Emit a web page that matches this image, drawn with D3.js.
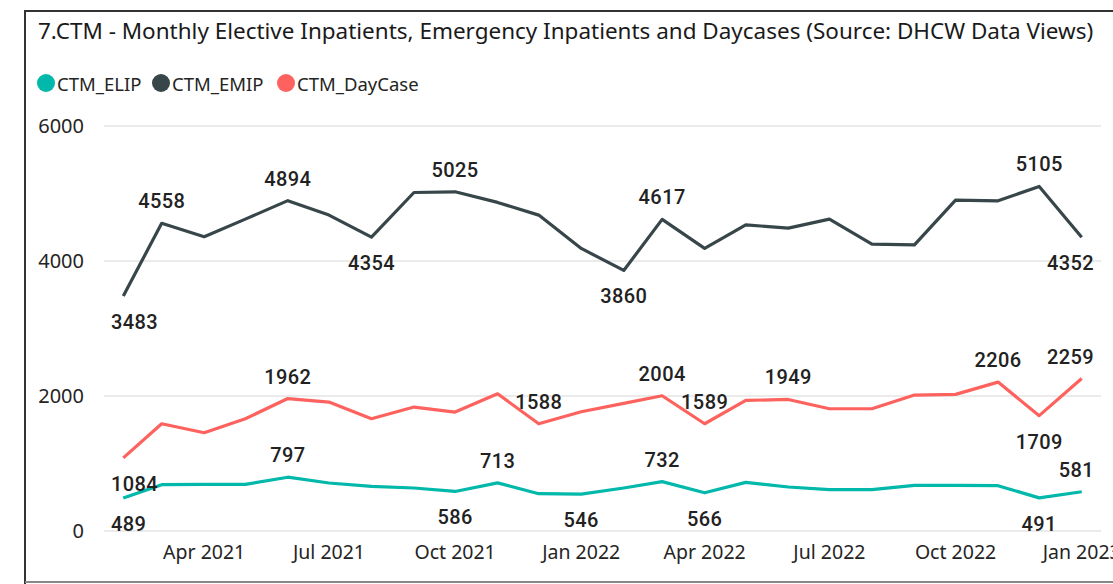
<!DOCTYPE html>
<html>
<head>
<meta charset="utf-8">
<script src="https://cdn.jsdelivr.net/npm/d3@7"></script>
<style>
  body { margin: 0; background: #fff; }
  svg { display: block; }
</style>
</head>
<body>
<svg id="chart" width="1113" height="584"></svg>
<script>
var months = ["2021-02", "2021-03", "2021-04", "2021-05", "2021-06", "2021-07",
    "2021-08", "2021-09", "2021-10", "2021-11", "2021-12", "2022-01",
    "2022-02", "2022-03", "2022-04", "2022-05", "2022-06", "2022-07",
    "2022-08", "2022-09", "2022-10", "2022-11", "2022-12", "2023-01"];
var elip = [489, 686, 690, 690, 797, 711, 661, 637, 586, 713, 553, 546,
    637, 732, 566, 720, 652, 612, 612, 676, 676, 671, 491, 581];
var emip = [3483, 4558, 4360, 4620, 4894, 4680, 4354, 5015, 5025, 4868, 4680, 4186,
    3860, 4617, 4186, 4536, 4487, 4620, 4250, 4240, 4902, 4892, 5105, 4352];
var dayCase = [1084, 1589, 1456, 1663, 1962, 1910, 1663, 1836, 1762, 2033, 1588, 1767,
    1890, 2004, 1589, 1935, 1949, 1811, 1811, 2014, 2024, 2206, 1709, 2259];
var yTicks = [0, 2000, 4000, 6000];
var xTicks = ["2021-04", "2021-07", "2021-10", "2022-01", "2022-04", "2022-07", "2022-10", "2023-01"];
var seriesNames = ["CTM_ELIP", "CTM_EMIP", "CTM_DayCase"];
var colours = ["#01B8AA", "#374649", "#FD625E"];
// which points carry a data label, and on which side
var elipLabels = {0: "below", 4: "above", 8: "below", 9: "above", 11: "below", 13: "above", 14: "below", 22: "below", 23: "above"};
var emipLabels = {0: "below", 1: "above", 4: "above", 6: "below", 8: "above", 12: "below", 13: "above", 22: "above", 23: "below"};
var dayLabels = {0: "below", 4: "above", 10: "above", 13: "above", 14: "above", 16: "above", 21: "above", 22: "below", 23: "above"};

var parseMonth = d3.timeParse("%Y-%m");
var svg = d3.select("#chart");

// frame
svg.append("line").attr("x1", 25).attr("y1", 11).attr("x2", 1113).attr("y2", 11)
    .attr("stroke", "#333").attr("stroke-width", 2);
svg.append("line").attr("x1", 25).attr("y1", 10).attr("x2", 25).attr("y2", 584)
    .attr("stroke", "#333").attr("stroke-width", 2);
svg.append("line").attr("x1", 25).attr("y1", 582).attr("x2", 1113).attr("y2", 582)
    .attr("stroke", "#888").attr("stroke-width", 2);

// title, fitted to its width in the picture
var title = svg.append("text")
    .attr("x", 38).attr("y", 39)
    .attr("font-family", "'Noto Sans', sans-serif")
    .attr("font-size", 20)
    .attr("fill", "#1a1a1a")
    .text("7.CTM - Monthly Elective Inpatients, Emergency Inpatients and Daycases (Source: DHCW Data Views)");
var tw = title.node().getComputedTextLength();
title.attr("font-size", 20 * 1056 / tw);

// legend
var legendX = [46, 161, 286];
var legend = svg.append("g");
seriesNames.forEach(function(name, i) {
    legend.append("circle").attr("cx", legendX[i]).attr("cy", 83).attr("r", 9)
        .attr("fill", colours[i]);
    legend.append("text").attr("x", legendX[i] + 11).attr("y", 90.5)
        .attr("font-family", "'Noto Sans', sans-serif")
        .attr("font-size", 18.5)
        .attr("fill", "#252423")
        .text(name);
});

var x = d3.scaleTime()
    .domain([parseMonth(months[0]), parseMonth(months[months.length - 1])])
    .range([123.3, 1081.7]);
var y = d3.scaleLinear().domain([0, 6000]).range([531, 126]);

// gridlines + y labels
var yAxis = svg.append("g");
yAxis.selectAll("line").data(yTicks).join("line")
    .attr("x1", 104).attr("x2", 1101)
    .attr("y1", function(d) { return y(d); })
    .attr("y2", function(d) { return y(d); })
    .attr("stroke", "#ebebeb").attr("stroke-width", 2);
yAxis.selectAll("text").data(yTicks).join("text")
    .attr("x", 84)
    .attr("y", function(d) { return y(d) + 7; })
    .attr("text-anchor", "end")
    .attr("font-family", "'Noto Sans', sans-serif")
    .attr("font-size", 20)
    .attr("fill", "#252423")
    .text(function(d) { return d; });

// x labels
var fmt = d3.timeFormat("%b %Y");
svg.append("g").selectAll("text").data(xTicks).join("text")
    .attr("x", function(d) { return x(parseMonth(d)); })
    .attr("y", 559)
    .attr("text-anchor", "middle")
    .attr("font-family", "'Noto Sans', sans-serif")
    .attr("font-size", 19.5)
    .attr("fill", "#252423")
    .text(function(d) { return fmt(parseMonth(d)); });

var series = [elip, emip, dayCase];
var labelSets = [elipLabels, emipLabels, dayLabels];
var line = d3.line()
    .x(function(d, i) { return x(parseMonth(months[i])); })
    .y(function(d) { return y(d); });

series.forEach(function(values, s) {
    svg.append("path")
        .datum(values)
        .attr("d", line)
        .attr("fill", "none")
        .attr("stroke", colours[s])
        .attr("stroke-width", 3.2)
        .attr("stroke-linejoin", "round");
});

// data labels
var labelLayer = svg.append("g");
series.forEach(function(values, s) {
    var marks = labelSets[s];
    Object.keys(marks).forEach(function(k) {
        var i = +k;
        var px = x(parseMonth(months[i]));
        var py = y(values[i]) + (marks[k] == "above" ? -22 : 26);
        var t = labelLayer.append("text")
            .attr("y", py + 7)
            .attr("text-anchor", "middle")
            .attr("font-family", "Roboto, sans-serif")
            .attr("font-weight", 500)
            .attr("font-size", 20)
            .attr("letter-spacing", 0.4)
            .attr("fill", "#222")
            .text(values[i]);
        var w = t.node().getComputedTextLength();
        var cx = Math.max(111 + w / 2, Math.min(1094 - w / 2, px));
        t.attr("x", cx);
    });
});
</script>
</body>
</html>
